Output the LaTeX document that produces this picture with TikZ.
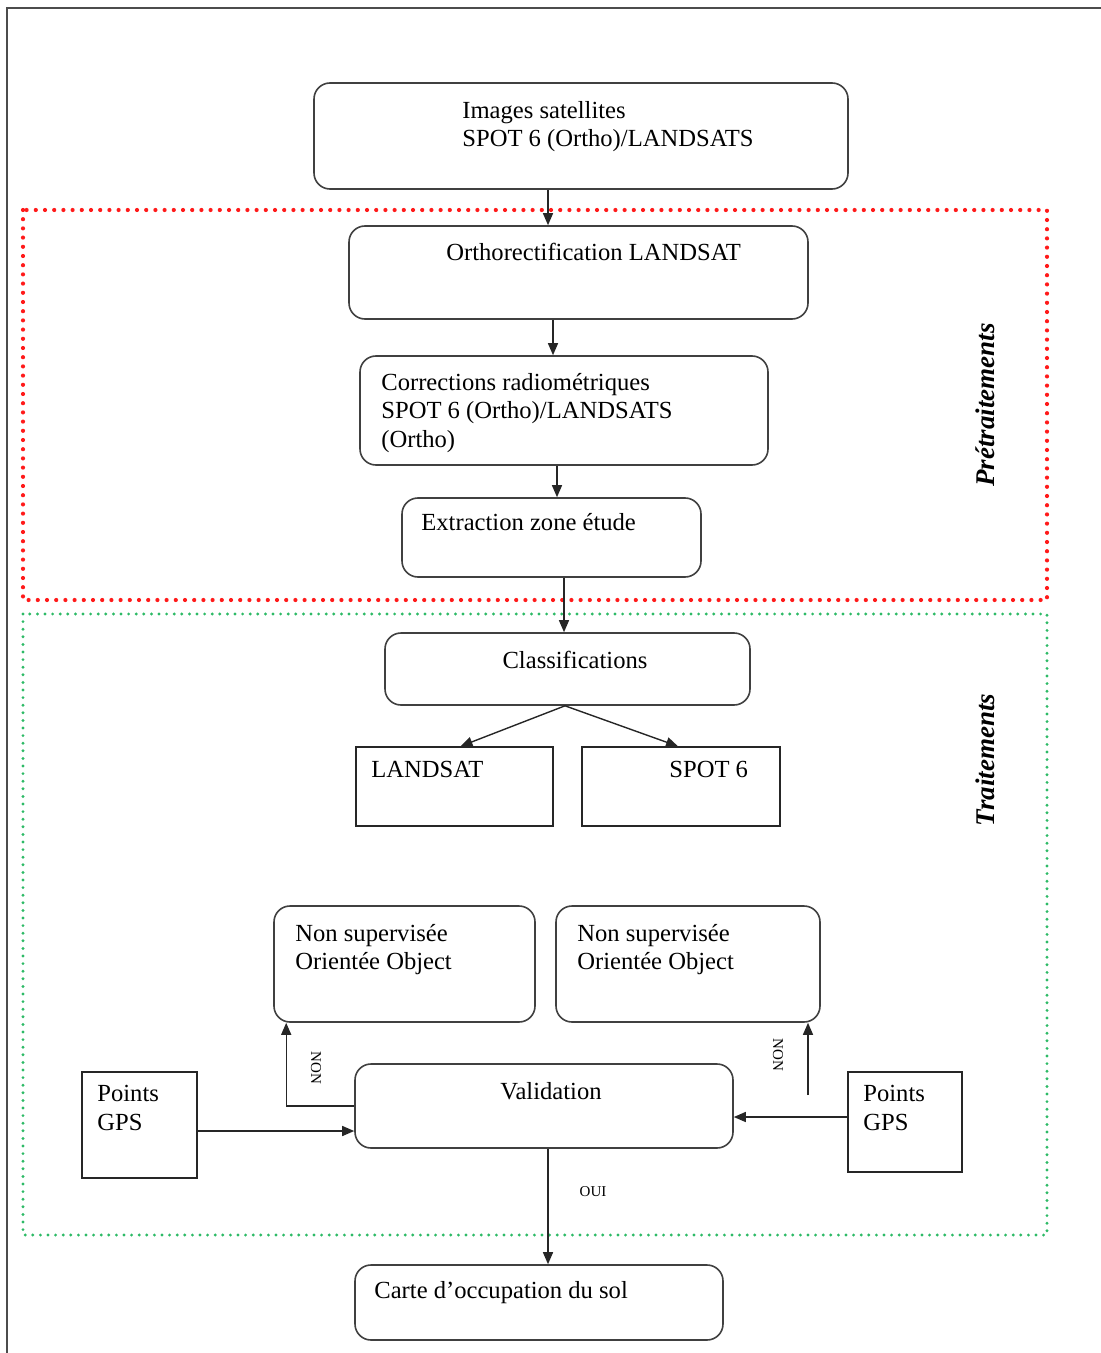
\documentclass[tikz,border=0pt]{standalone}
\usepackage{fontspec}
\setmainfont{Liberation Serif}
\usepackage{tikz}
\usetikzlibrary{arrows.meta,positioning,fit,calc}
\definecolor{boxline}{HTML}{404040}
\definecolor{preRed}{HTML}{FF1A1A}
\definecolor{traitGreen}{HTML}{2DBA66}

\tikzset{
  rbox/.style={draw=boxline,line width=0.8pt,rounded corners=8pt,inner sep=0pt},
  sbox/.style={draw=black!85,line width=0.7pt,inner sep=0pt},
  txt/.style={anchor=north west,align=left,inner sep=0pt,font=\fontsize{12.3}{14.2}\selectfont},
  arr/.style={-{Triangle[length=6pt,width=5pt]},line width=0.7pt,black!85},
  lbl/.style={inner sep=0pt,font=\fontsize{7.5}{9}\selectfont},
  side/.style={rotate=90,inner sep=0pt,font=\fontsize{13.5}{16}\selectfont\bfseries\itshape}
}

\begin{document}
\begin{tikzpicture}[x=0.5pt,y=-0.5pt]
  \useasboundingbox (0,0) rectangle (1101,1353);
  \draw[black!70,line width=0.7pt] (7,1353) -- (7,8) -- (1101,8);

  % zones
  \draw[preRed,line width=2.1pt,dash pattern=on 0pt off 4.6pt,line cap=round] (23,210) rectangle (1047,600);
  \draw[traitGreen,line width=1.6pt,dash pattern=on 0pt off 3.8pt,line cap=round] (23,614) rectangle (1047,1235);
  \node[side] (pretrait) at (985,405) {Prétraitements};
  \node[side] (trait) at (985,760) {Traitements};

  % boxes
  \node[rbox,fit={(314,83) (848,189)}] (img) {};
  \node[txt] (imgT) at (462,101) {Images satellites\\SPOT 6 (Ortho)/LANDSATS};
  \node[rbox,fit={(349,226) (808,319)}] (ortho) {};
  \node[txt] (orthoT) at (446,243) {Orthorectification LANDSAT};
  \node[rbox,fit={(360,356) (768,465)}] (corr) {};
  \node[txt] (corrT) at (381,373) {Corrections radiométriques\\SPOT 6 (Ortho)/LANDSATS\\(Ortho)};
  \node[rbox,fit={(402,498) (701,577)}] (extr) {};
  \node[txt] (extrT) at (421,513) {Extraction zone étude};
  \node[rbox,fit={(385,633) (750,705)}] (classif) {};
  \node[txt,anchor=center] (classifT) at (575,660) {Classifications};
  \node[sbox,fit={(356,747) (553,826)}] (landsat) {};
  \node[txt] (landsatT) at (371,761) {LANDSAT};
  \node[sbox,fit={(582,747) (780,826)}] (spot) {};
  \node[txt] (spotT) at (669,761) {SPOT 6};
  \node[rbox,fit={(274,906) (535,1022)}] (nsA) {};
  \node[txt] (nsAT) at (295,924) {Non supervisée\\Orientée Object};
  \node[rbox,fit={(556,906) (820,1022)}] (nsB) {};
  \node[txt] (nsBT) at (577,924) {Non supervisée\\Orientée Object};
  \node[rbox,fit={(355,1064) (733,1148)}] (valid) {};
  \node[txt,anchor=center] (validT) at (551,1091) {Validation};
  \node[sbox,fit={(82,1072) (197,1178)}] (gpsL) {};
  \node[txt] (gpsLT) at (97,1085) {Points\\GPS};
  \node[sbox,fit={(848,1072) (962,1172)}] (gpsR) {};
  \node[txt] (gpsRT) at (863,1085) {Points\\GPS};
  \node[rbox,fit={(355,1265) (723,1340)}] (carte) {};
  \node[txt] (carteT) at (374,1281) {Carte d’occupation du sol};

  % arrows
  \draw[arr] ([xshift=-16.5pt]img.south) -- ([xshift=-16.5pt]img.south |- ortho.north);
  \draw[arr] ([xshift=-12.75pt]ortho.south) -- ([xshift=-12.75pt]ortho.south |- corr.north);
  \draw[arr] ([xshift=-3.5pt]corr.south) -- ([xshift=-3.5pt]corr.south |- extr.north);
  \draw[arr] ([xshift=6.25pt]extr.south) -- ([xshift=6.25pt]extr.south |- classif.north);
  \draw[arr] ([xshift=-1.25pt]classif.south) -- ([xshift=3pt]landsat.north);
  \draw[arr] ([xshift=-1.25pt]classif.south) -- ([xshift=-1.5pt]spot.north);
  \draw[arr] ([yshift=-3pt]gpsL.east) -- ([yshift=-3pt]gpsL.east -| valid.west);
  \draw[arr] ([yshift=2.5pt]gpsR.west) -- ([yshift=2.5pt]gpsR.west -| valid.east);
  \draw[arr] (valid.west) -| ([xshift=6.5pt]nsA.south west);
  \node[lbl,rotate=-90] (nonA) at (316,1068) {NON};
  \coordinate (nonBstart) at (808,1095);
  \draw[arr] (nonBstart) -- (nonBstart |- nsB.south);
  \node[lbl,rotate=-90] (nonB) at (778,1055) {NON};
  \draw[arr] ([xshift=2pt]valid.south) -- ([xshift=2pt]valid.south |- carte.north);
  \node[lbl] (oui) at (593,1192) {OUI};
\end{tikzpicture}
\end{document}
